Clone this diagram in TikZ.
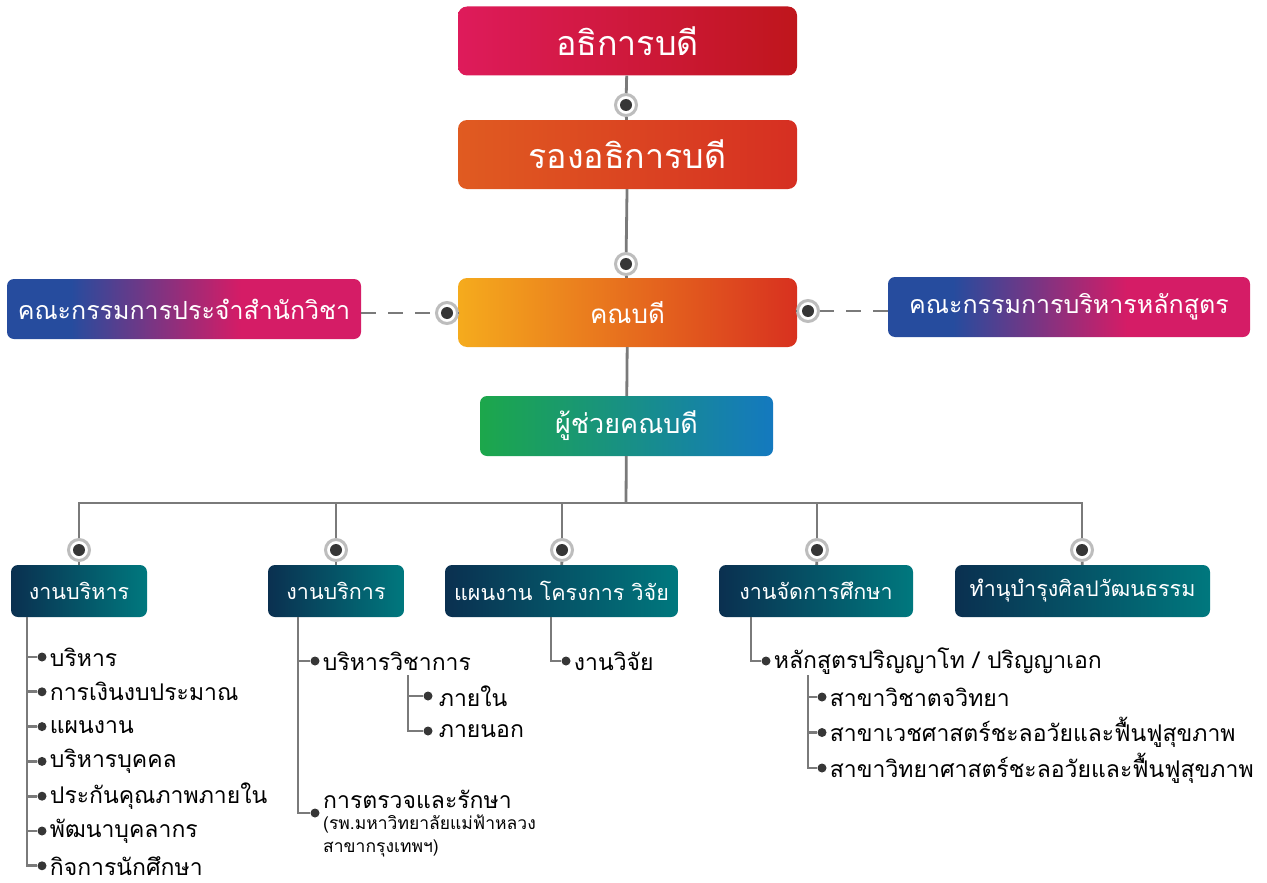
\documentclass[tikz,border=0pt]{standalone}
\usepackage{fontspec}
\usepackage{tikz}
\newfontfamily\thaifont[Script=Thai]{Loma}
\usetikzlibrary{positioning}

\definecolor{topL}{HTML}{DE1B5B}
\definecolor{topR}{HTML}{BF161C}
\definecolor{viceL}{HTML}{E05B21}
\definecolor{viceR}{HTML}{D62F22}
\definecolor{deanL}{HTML}{F5AB1D}
\definecolor{deanR}{HTML}{D8311F}
\definecolor{comB}{HTML}{264C9E}
\definecolor{comM}{HTML}{D51C66}
\definecolor{asstL}{HTML}{1CA74B}
\definecolor{asstR}{HTML}{1479BF}
\definecolor{unitL}{HTML}{0A3050}
\definecolor{unitR}{HTML}{00787E}
\definecolor{linegray}{HTML}{7A7A7A}
\definecolor{ringgray}{HTML}{BDBDBD}
\definecolor{dotdark}{HTML}{363636}

\pgfdeclarehorizontalshading{comshade}{100bp}{color(0bp)=(comB); color(25bp)=(comB); color(34bp)=(comB); color(58bp)=(comM); color(75bp)=(comM); color(100bp)=(comM)}

\begin{document}
\begin{tikzpicture}[x=1pt, y=-1pt,
                    bignode/.style={rectangle, rounded corners=9pt, minimum width=339pt, minimum height=69pt, text=white, inner sep=0pt},
                    comnode/.style={rectangle, rounded corners=7pt, minimum height=60pt, text=white, inner sep=0pt, shading=comshade, font=\thaifont\fontsize{25}{30}\selectfont},
                    unitnode/.style={rectangle, rounded corners=7pt, minimum height=52pt, text=white, inner sep=0pt, left color=unitL, right color=unitR, font=\thaifont\fontsize{21.5}{26}\selectfont},
                    ringnode/.style={circle, draw=ringgray, line width=3pt, fill=white, minimum size=21pt, inner sep=0pt, path picture={\fill[dotdark] (path picture bounding box.center) circle (6pt);}},
                    leafdot/.style={circle, fill=dotdark, minimum size=9pt, inner sep=0pt},
                    leaf/.style={anchor=west, inner sep=1pt, font=\thaifont\fontsize{23}{28}\selectfont},
                    note/.style={anchor=north west, align=left, inner sep=1pt, font=\thaifont\fontsize{17.5}{23}\selectfont},
                    line/.style={draw=linegray, line width=2.8pt},
                    dashline/.style={draw=linegray, line width=2.8pt, dash pattern=on 15pt off 12pt}
                   ]
\useasboundingbox (0,0) rectangle (1267,883);
%Nodes
\node[bignode, left color=topL, right color=topR, font=\thaifont\fontsize{34}{40}\selectfont] (rector) at (627.5,41) {อธิการบดี};
\node[bignode, left color=viceL, right color=viceR, font=\thaifont\fontsize{34}{40}\selectfont] (vice) at (627.5,154.5) {รองอธิการบดี};
\node[bignode, left color=deanL, right color=deanR, font=\thaifont\fontsize{26}{32}\selectfont] (dean) at (627.5,312.5) {คณบดี};
\node[comnode, minimum width=354pt] (comL) at (184,309) {คณะกรรมการประจำสำนักวิชา};
\node[comnode, minimum width=362pt] (comR) at (1069,307) {คณะกรรมการบริหารหลักสูตร};
\node[rectangle, rounded corners=7pt, minimum width=293pt, minimum height=60pt, text=white, left color=asstL, right color=asstR, font=\thaifont\fontsize{27}{32}\selectfont] (asst) at (626.5,426) {ผู้ช่วยคณบดี};

\node[unitnode, minimum width=136pt] (adm)  at (79,591)    {งานบริหาร};
\node[unitnode, minimum width=136pt] (srv)  at (336,591)   {งานบริการ};
\node[unitnode, minimum width=233pt] (plan) at (561.5,591) {แผนงาน โครงการ วิจัย};
\node[unitnode, minimum width=194pt] (edu)  at (816,591)   {งานจัดการศึกษา};
\node[unitnode, minimum width=255pt] (cult) at (1082.5,591) {ทำนุบำรุงศิลปวัฒนธรรม};

% ring dots
\node[ringnode] (r1) at (626,105) {};
\node[ringnode] (r2) at (626,264) {};
\node[ringnode] (rL) at (447,313) {};
\node[ringnode] (rR) at (808,311) {};
\node[ringnode] (u1) at (79,550)   {};
\node[ringnode] (u2) at (336,550)  {};
\node[ringnode] (u3) at (562,550)  {};
\node[ringnode] (u4) at (817,550)  {};
\node[ringnode] (u5) at (1082,550) {};
\coordinate (bus) at (626,503);

% %Lines
\draw[line] (rector) -- (r1) -- (vice);
\draw[line] (vice) -- (r2) -- (dean);
\draw[line] (dean) -- (asst);
\draw[line] (rL) -- (rL -| dean.west);
\draw[line] (rR) -- (rR -| dean.east);
\draw[dashline] (comL.east |- rL) -- (rL);
\draw[dashline] (comR.west |- rR) -- (rR);
\draw[line] (asst) -- (bus);
\foreach \u in {u1,u2,u3,u4,u5}
  \draw[line] (bus) -| (\u);
\draw[line] (u1) -- (adm);
\draw[line] (u2) -- (srv);
\draw[line] (u3) -- (plan);
\draw[line] (u4) -- (edu);
\draw[line] (u5) -- (cult);

% งานบริหาร
\coordinate (aTop) at (27,617);
\foreach \t [count=\i] in {บริหาร, การเงินงบประมาณ, แผนงาน, บริหารบุคคล, ประกันคุณภาพภายใน, พัฒนาบุคลากร, กิจการนักศึกษา} {
  \pgfmathsetmacro\yy{657+34.8*(\i-1)}
  \node[leafdot] (a\i) at (42,\yy) {};
  \node[leaf] at ([xshift=2pt]a\i.east) {\t};
  \draw[line] (aTop) |- (a\i);
}

% งานบริการ
\coordinate (sTop) at (298,617);
\node[leafdot] (s1) at (315,661) {};
\node[leaf] (s1t) at ([xshift=2pt]s1.east) {บริหารวิชาการ};
\node[leafdot] (s2) at (315,813) {};
\node[leaf] (s2t) at (322,799) {การตรวจและรักษา};
\node[note] (s2n) at (322,814) {(รพ.มหาวิทยาลัยแม่ฟ้าหลวง\\สาขากรุงเทพฯ)};
\draw[line] (sTop) |- (s1);
\draw[line] (sTop) |- (s2);
\coordinate (siTop) at (408,675);
\node[leafdot] (si1) at (428,696) {};
\node[leaf] at ([xshift=5pt]si1.east) {ภายใน};
\node[leafdot] (si2) at (428,731) {};
\node[leaf] at ([xshift=5pt]si2.east) {ภายนอก};
\draw[line] (siTop) |- (si1);
\draw[line] (siTop) |- (si2);

% แผนงาน โครงการ วิจัย
\coordinate (pTop) at (551,617);
\node[leafdot] (p1) at (566,661) {};
\node[leaf] at ([xshift=2pt]p1.east) {งานวิจัย};
\draw[line] (pTop) |- (p1);

% งานจัดการศึกษา
\coordinate (eTop) at (751,617);
\node[leafdot] (e1) at (766,661) {};
\node[leaf] at ([xshift=2pt]e1.east) {หลักสูตรปริญญาโท / ปริญญาเอก};
\draw[line] (eTop) |- (e1);
\coordinate (eiTop) at (808,675);
\foreach \t [count=\i] in {สาขาวิชาตจวิทยา, สาขาเวชศาสตร์ชะลอวัยและฟื้นฟูสุขภาพ, สาขาวิทยาศาสตร์ชะลอวัยและฟื้นฟูสุขภาพ} {
  \pgfmathsetmacro\yy{697+35.5*(\i-1)}
  \node[leafdot] (ei\i) at (822,\yy) {};
  \node[leaf] at ([xshift=2pt]ei\i.east) {\t};
  \draw[line] (eiTop) |- (ei\i);
}
\end{tikzpicture}
\end{document}
